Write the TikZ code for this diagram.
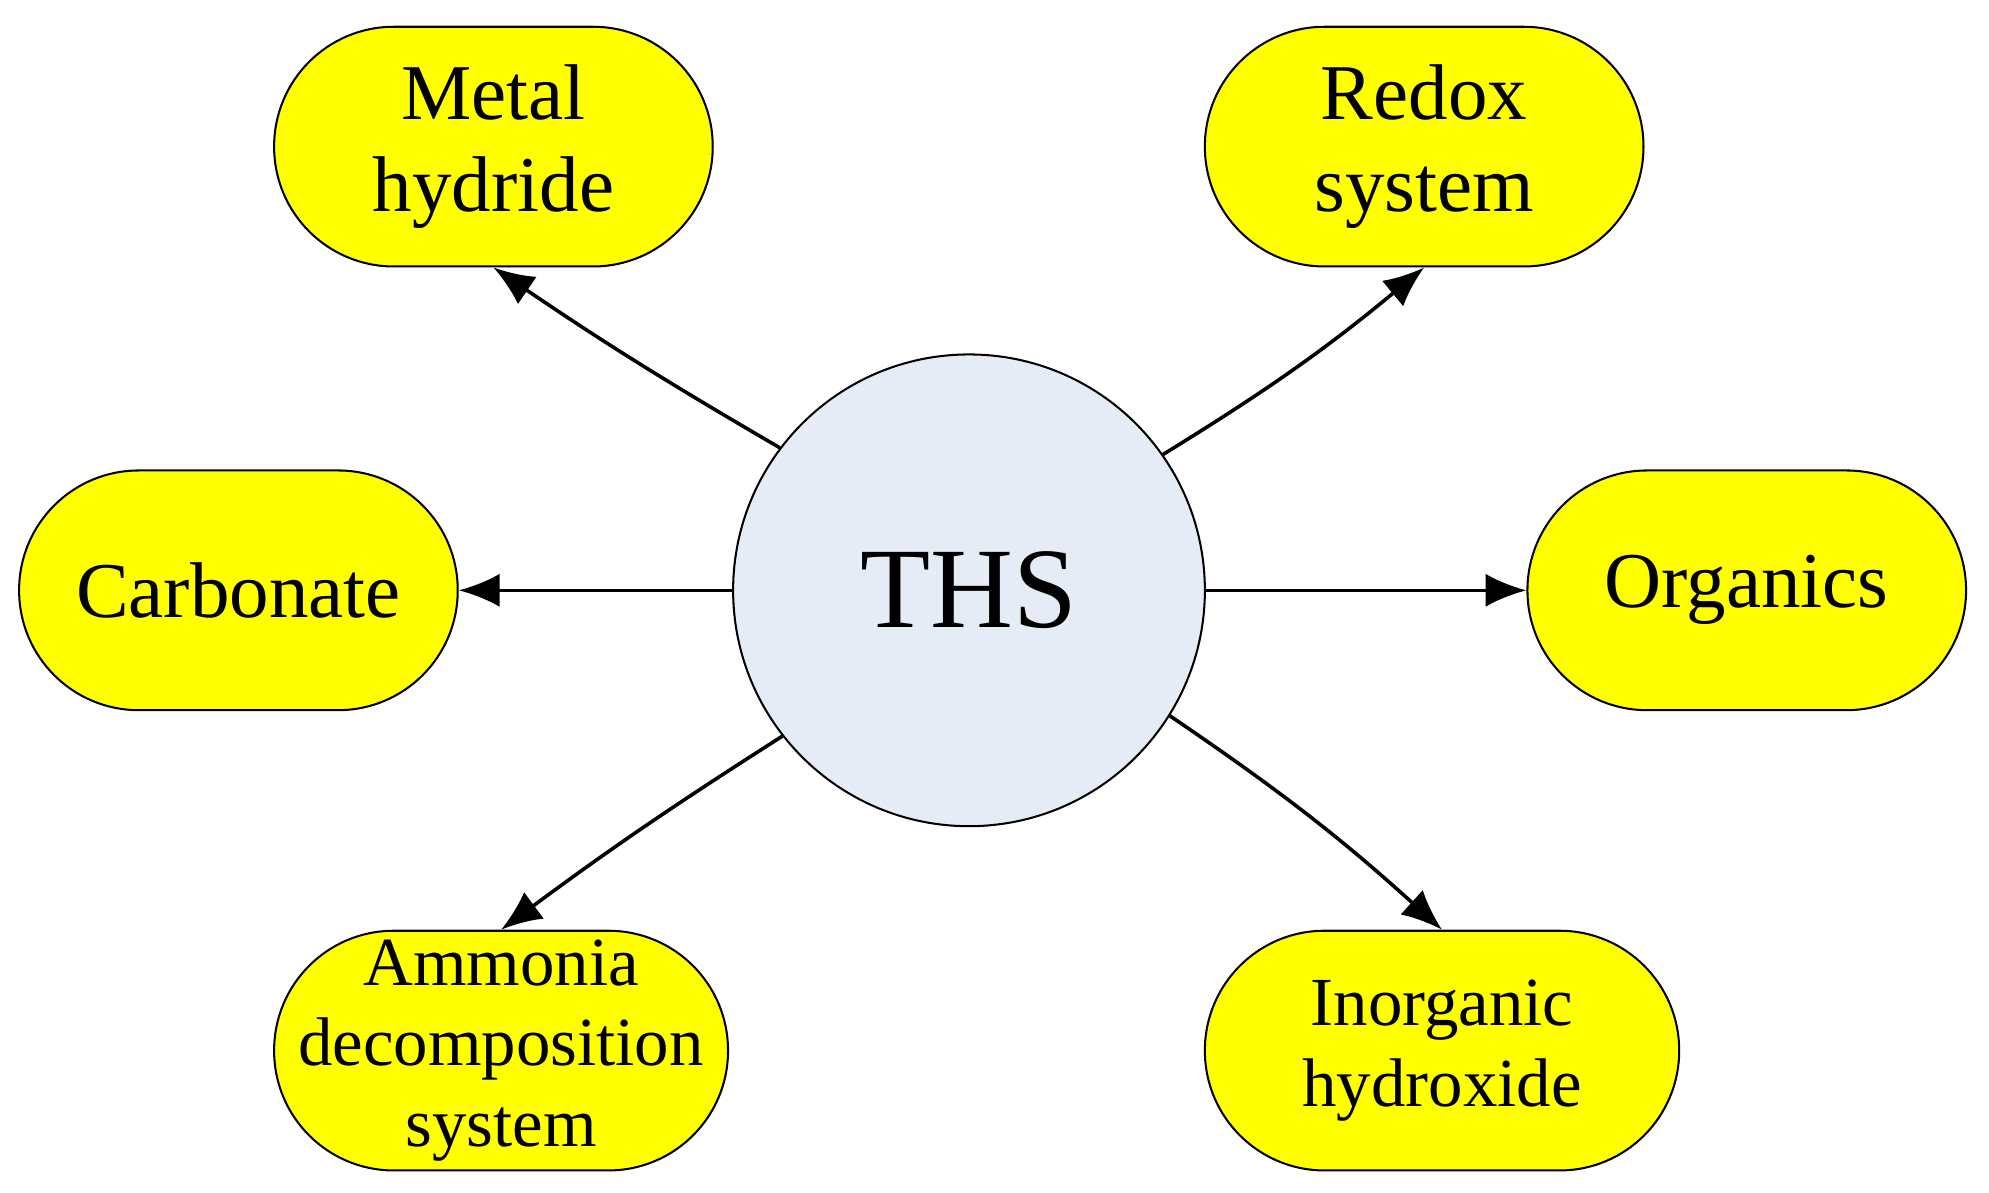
\documentclass[tikz,border=0pt]{standalone}
\usepackage{fontspec}
\setmainfont{Liberation Serif}
\usetikzlibrary{arrows.meta}
\definecolor{ylw}{RGB}{255,255,0}
\definecolor{cfill}{RGB}{230,236,246}
\begin{document}
\begin{tikzpicture}[x=0.5pt,y=-0.5pt,
  box/.style={draw,line width=0.8pt,fill=ylw,rectangle,rounded corners=46.9pt,minimum height=94pt,inner sep=0pt,align=center,font=\fontsize{31}{36}\selectfont},
  arr/.style={line width=1.4pt,-{Latex[length=16pt,width=13pt]}}]
\useasboundingbox (0,0) rectangle (1560,935);
\node[box,minimum width=172pt] (mh) at (387,115) {Metal\\hydride};
\node[box,minimum width=172pt] (rs) at (1117,115) {Redox\\system};
\node[box,minimum width=172pt] (ca) at (187,463) {Carbonate};
\node[box,minimum width=172pt] (or) at (1370,463) {Organics};
\node[box,minimum width=178pt,font=\fontsize{27}{31.5}\selectfont] (am) at (393,824) {Ammonia\\decomposition\\system};
\node[box,minimum width=186pt,font=\fontsize{27}{31.5}\selectfont] (ih) at (1131,824) {Inorganic\\hydroxide};
\node[circle,draw,line width=0.8pt,fill=cfill,minimum size=185pt,inner sep=0pt,font=\fontsize{45}{50}\selectfont] (ths) at (760,463) {THS};
\draw[arr] (ths.143) to[bend left=2] (mh.south);
\draw[arr] (ths.35) to[bend right=4] (rs.south);
\draw[arr] (ths.west) -- (ca.east);
\draw[arr] (ths.east) -- (or.west);
\draw[arr] (ths.-142) to[bend right=2] (am.north);
\draw[arr] (ths.-32) to[bend left=4] (ih.north);
\end{tikzpicture}
\end{document}
